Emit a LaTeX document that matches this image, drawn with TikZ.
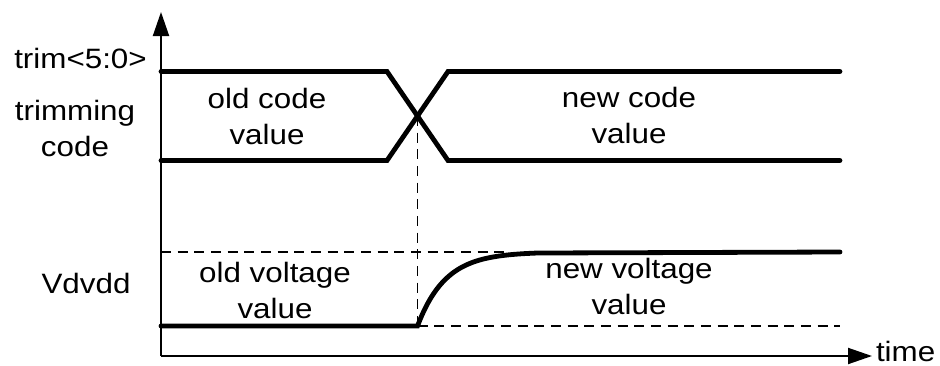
\documentclass[tikz,border=0pt]{standalone}
\usepackage{fontspec}
\setmainfont{Liberation Sans}[FakeStretch=1.12]
\usetikzlibrary{arrows.meta}
\begin{document}
\begin{tikzpicture}[x=0.75pt,y=-0.75pt,
  every node/.style={font=\fontsize{21pt}{27pt}\selectfont, inner sep=0pt, outer sep=0pt},
  axisline/.style={line width=1.5pt, -{Triangle[length=18pt,width=12pt]}},
  trace/.style={line width=3.6pt, line cap=round, line join=miter},
  guide/.style={line width=1.1pt, dash pattern=on 7.5pt off 5pt}]
\useasboundingbox (0,0) rectangle (940,365);
% axes
\coordinate (origin) at (161,356);
\coordinate (ytop) at (161,12);
\coordinate (xend) at (872,356);
\draw[axisline] (origin) -- (ytop);
\draw[axisline] (origin) -- (xend);
\node[anchor=west] (time) at (876,351) {time};
% trimming code bus
\coordinate (hiL) at (161,71.5);
\coordinate (loL) at (161,160.5);
\coordinate (hiA) at (387,71.5);
\coordinate (loA) at (387,160.5);
\coordinate (hiB) at (448,71.5);
\coordinate (loB) at (448,160.5);
\coordinate (hiR) at (840,71.5);
\coordinate (loR) at (840,160.5);
\coordinate (cross) at (417.5,116);
\draw[trace] (hiL) -- (hiA) -- (loB) -- (loR);
\draw[trace] (loL) -- (loA) -- (hiB) -- (hiR);
% voltage guides
\coordinate (vstart) at (417.5,326);
\coordinate (vlowR) at (840,326);
\coordinate (vhighL) at (161,252);
\coordinate (vhighM) at (505,252);
\draw[guide] (cross) -- (vstart);
\draw[guide] (vhighL) -- (vhighM);
\draw[guide] (vstart) -- (vlowR);
% voltage trace
\coordinate (vlowL) at (161,326);
\coordinate (vhighR) at (840,252);
\draw[trace] (vlowL) -- (vstart)
  -- plot[smooth, samples=40, domain=0:120] ({417.5+\x},{252+74*exp(-\x/28)})
  -- (vhighR);
% labels
\node[anchor=base] (trim) at (80.5,68) {trim<5:0>};
\node[anchor=base] (trimcode) at (75,120) {\begin{tabular}[t]{@{}c@{}}trimming\\code\end{tabular}};
\node[anchor=base] (oldcode) at (267,108) {\begin{tabular}[t]{@{}c@{}}old code\\value\end{tabular}};
\node[anchor=base] (newcode) at (629,107) {\begin{tabular}[t]{@{}c@{}}new code\\value\end{tabular}};
\node[anchor=base] (vdvdd) at (86,293) {Vdvdd};
\node[anchor=base] (oldvolt) at (275,282) {\begin{tabular}[t]{@{}c@{}}old voltage\\value\end{tabular}};
\node[anchor=base] (newvolt) at (629,278) {\begin{tabular}[t]{@{}c@{}}new voltage\\value\end{tabular}};
\end{tikzpicture}
\end{document}
